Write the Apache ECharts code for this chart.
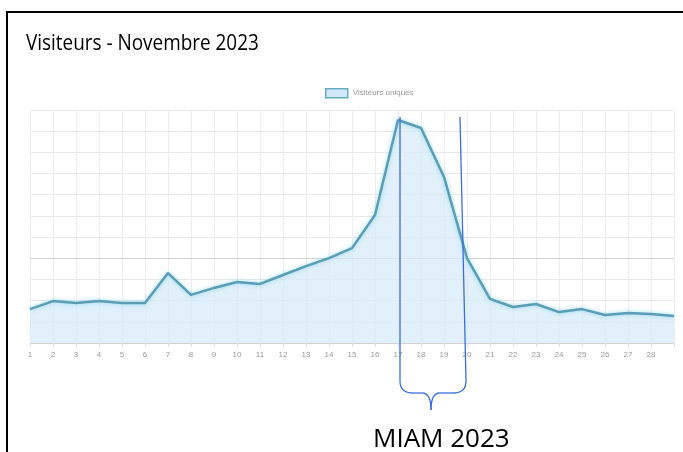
<!DOCTYPE html>
<html>
<head>
<meta charset="utf-8">
<script src="https://cdn.jsdelivr.net/npm/echarts@6/dist/echarts.min.js"></script>
<style>
  html, body { margin: 0; padding: 0; background: #fff; }
  #chart { width: 683px; height: 452px; }
</style>
</head>
<body>
<div id="chart"></div>
<script>
// jours de novembre (le 29 est coupé par la capture)
const days = ['1','2','3','4','5','6','7','8','9','10','11','12','13','14','15','16','17','18','19','20','21','22','23','24','25','26','27','28','29']
const visitors = [160, 198, 189, 198, 189, 189, 330, 227, 260, 288, 279, 321, 363, 401, 448, 604, 1053, 1015, 784, 401, 208, 170, 184, 146, 160, 132, 142, 137, 127]
const seriesName = 'Visiteurs uniques'
const titleText = 'Visiteurs - Novembre 2023'
const noteText = 'MIAM 2023'

let myChart = echarts.init(document.getElementById('chart'))

const braceStyle = { stroke: '#3a6fd8', lineWidth: 1.3, fill: null }

let option = {
  backgroundColor: '#fff',
  animation: false,
  legend: {
    data: [{ name: seriesName, icon: 'rect' }],
    top: 83,
    left: 320,
    itemWidth: 22,
    itemHeight: 9,
    itemGap: 4,
    itemStyle: { color: '#cfe9f8', borderColor: '#6aa9c4', borderWidth: 1.5 },
    textStyle: { fontSize: 8, color: '#999', fontFamily: 'Liberation Sans' }
  },
  grid: { left: 30, right: 9, top: 110, bottom: 109, containLabel: false },
  xAxis: {
    type: 'category',
    data: days,
    boundaryGap: false,
    axisLine: { lineStyle: { color: '#d0d0d0' } },
    axisTick: { show: true, length: 4, lineStyle: { color: '#e0e0e0' } },
    axisLabel: {
      fontSize: 8, color: '#999', margin: 8, interval: 0, fontFamily: 'Liberation Sans',
      formatter: v => (v === '29' ? '' : v)
    },
    splitLine: { show: true, lineStyle: { color: '#ededed' } }
  },
  yAxis: {
    type: 'value',
    min: 0,
    max: 1100,
    interval: 100,
    axisLabel: { show: false },
    axisLine: { show: false },
    axisTick: { show: false },
    splitLine: { lineStyle: { color: '#e9e9e9' } }
  },
  series: [{
    name: seriesName,
    type: 'line',
    data: visitors,
    symbol: 'none',
    lineStyle: { color: '#5a9db5', width: 2.5, shadowColor: 'rgba(120,210,240,0.8)', shadowBlur: 4 },
    itemStyle: { color: '#5a9db5' },
    areaStyle: { color: '#d4eaf8' },
    markLine: {
      silent: true,
      symbol: 'none',
      label: { show: false },
      lineStyle: { color: '#d4d4d4', type: 'solid', width: 1 },
      z: 1,
      data: [{ yAxis: 400 }]
    }
  }],
  graphic: [
    // cadre de la capture
    { type: 'polyline', shape: { points: [[7, 452], [7, 12], [683, 12]] }, style: { stroke: '#000', lineWidth: 2, fill: null }, z: 100 },
    { type: 'text', x: 26, y: 33, scaleX: 0.86, style: { text: titleText, fontSize: 22, fontFamily: 'Open Sans', fill: '#000' }, z: 100 },
    // accolade MIAM
    { type: 'line', shape: { x1: 400, y1: 117, x2: 400, y2: 381 }, style: braceStyle, z: 100 },
    { type: 'line', shape: { x1: 460, y1: 117, x2: 466, y2: 381 }, style: braceStyle, z: 100 },
    { type: 'bezierCurve', shape: { x1: 400, y1: 381, cpx1: 400, cpy1: 393, x2: 413, y2: 393 }, style: braceStyle, z: 100 },
    { type: 'line', shape: { x1: 413, y1: 393, x2: 423, y2: 393 }, style: braceStyle, z: 100 },
    { type: 'bezierCurve', shape: { x1: 423, y1: 393, cpx1: 431, cpy1: 394, x2: 431, y2: 410 }, style: braceStyle, z: 100 },
    { type: 'bezierCurve', shape: { x1: 439, y1: 393, cpx1: 431, cpy1: 394, x2: 431, y2: 410 }, style: braceStyle, z: 100 },
    { type: 'line', shape: { x1: 439, y1: 393, x2: 453, y2: 393 }, style: braceStyle, z: 100 },
    { type: 'bezierCurve', shape: { x1: 466, y1: 381, cpx1: 466, cpy1: 393, x2: 453, y2: 393 }, style: braceStyle, z: 100 },
    { type: 'text', x: 373, y: 427, scaleX: 1.0, style: { text: noteText, fontSize: 26, fontFamily: 'Open Sans', fill: '#000' }, z: 100 }
  ]
}

option && myChart.setOption(option)
</script>
</body>
</html>
